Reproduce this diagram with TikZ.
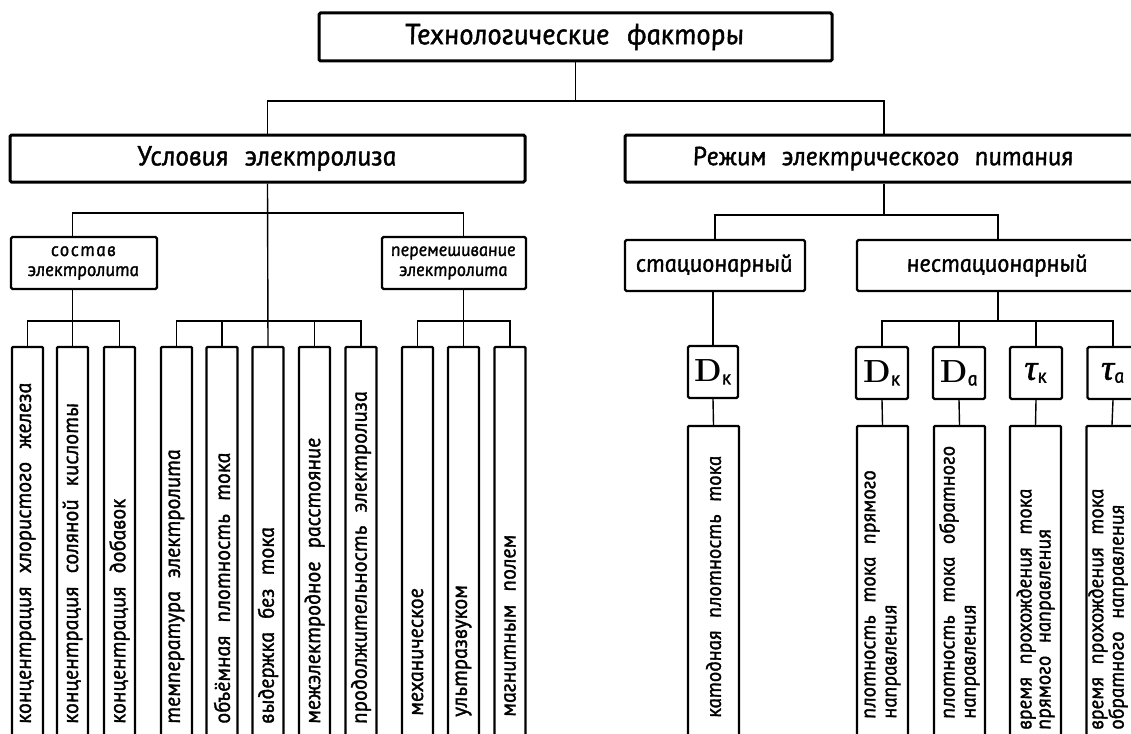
\documentclass[tikz,border=0pt]{standalone}
\usepackage{fontspec}
\newfontfamily\gost{PT Sans Italic}[FakeSlant=-0.18, FakeBold=1.6]
\newfontfamily\grk{Liberation Serif Italic}[FakeBold=1.5]
\newcommand\fTitle{\gost\fontsize{29}{32}\selectfont\spaceskip=0.6em plus 0.1em\relax}
\newcommand\fUsl{\gost\fontsize{27.5}{30}\selectfont\spaceskip=0.6em plus 0.1em\relax}
\newcommand\fRez{\gost\fontsize{26}{30}\selectfont\spaceskip=0.6em plus 0.1em\relax}
\newcommand\fHead{\gost\fontsize{24.5}{30}\selectfont\spaceskip=0.6em plus 0.1em\relax}
\newcommand\fSub{\gost\fontsize{19}{20}\selectfont\spaceskip=0.5em\relax}
\newcommand\fPer{\gost\fontsize{18.5}{20}\selectfont\spaceskip=0.5em\relax}
\newcommand\fVert{\gost\fontsize{22}{21}\selectfont\spaceskip=0.6em plus 0.1em\relax}
\newcommand\fVertR{\gost\fontsize{21}{21}\selectfont\spaceskip=0.6em plus 0.1em\relax}
\newcommand\fVertS{\gost\fontsize{21}{19}\selectfont\spaceskip=0.6em plus 0.1em\relax}
\newcommand\dsym[1]{{\fontsize{32}{32}\selectfont\bfseries D}\kern1pt\raisebox{-3pt}{\gost\fontsize{20}{20}\selectfont #1}}
\newcommand\tsym[1]{{\grk\fontsize{36}{36}\selectfont τ}\kern1pt\raisebox{-3pt}{\gost\fontsize{20}{20}\selectfont #1}}
\begin{document}
\begin{tikzpicture}[x=1pt,y=-1pt,
  box/.style={draw, line width=2.4pt, rounded corners=1.5pt, inner sep=0pt, align=center},
  bigbox/.style={box, line width=3pt},
  tall/.style={draw, line width=2.2pt, rounded corners=1pt, inner sep=0pt, minimum width=31pt, minimum height=413pt},
  tallr/.style={tall, minimum width=51pt, minimum height=334pt},
  con/.style={line width=1.4pt},
  vt/.style={rotate=90, anchor=west, inner sep=0pt, font=\fVert, align=left},
  vtr/.style={vt, font=\fVertR},
  vts/.style={vt, font=\fVertS},
]
\clip (0,0) rectangle (1131,733);
% buses
\coordinate (busA) at (0,101);
\coordinate (busB) at (0,213);
\coordinate (busC) at (0,321);
\coordinate (busD) at (0,215);
% top levels
\node[bigbox, minimum width=513pt, minimum height=48pt, font=\fTitle] (top) at (575.5,37) {Технологические факторы};
\node[bigbox, minimum width=515pt, minimum height=47pt, font=\fUsl] (usl) at (267.5,158.5) {Условия электролиза};
\node[bigbox, minimum width=518pt, minimum height=47pt, font=\fRez] (rez) at (884,158.5) {Режим электрического питания};
\node[box, minimum width=146pt, minimum height=52pt, font=\fSub] (sost) at (84,263) {\addfontfeature{LetterSpace=8}состав\\электролита};
\node[box, minimum width=144pt, minimum height=52pt, font=\fPer] (per) at (454,263) {перемешивание\\электролита};
\node[box, minimum width=180pt, minimum height=51pt, font=\fHead] (stac) at (715,265.5) {стационарный};
\node[box, minimum width=282pt, minimum height=51pt, font=\fHead] (nest) at (998,265.5) {нестационарный};
% small symbol boxes
\node[box, minimum width=50pt, minimum height=52pt] (Dk1) at (713,372) {\dsym{к}};
\node[box, minimum width=52pt, minimum height=52pt] (Dk2) at (882,373) {\dsym{к}};
\node[box, minimum width=52pt, minimum height=52pt] (Da) at (959,373) {\dsym{а}};
\node[box, minimum width=52pt, minimum height=52pt] (tk) at (1036,373) {\tsym{к}};
\node[box, minimum width=51pt, minimum height=52pt] (ta) at (1113,373) {\tsym{а}};
% tall boxes left
\foreach \n/\x in {b1/27.5,b2/72.5,b3/119.5,b4/176.5,b5/222,b6/268,b7/314.5,b8/361,b9/417.5,b10/463.5,b11/510}
  \node[tall] (\n) at (\x,553.5) {};
% tall boxes right
\foreach \n/\x in {r0/713.5,r1/882.5,r2/959.5,r3/1035.5,r4/1112}
  \node[tallr] (\n) at (\x,593) {};
% texts
\node[vt] (t1) at ([yshift=38pt]b1.south) {концентрация хлористого железа};
\node[vt] (t2) at ([yshift=38pt]b2.south) {концентрация соляной кислоты};
\node[vt] (t3) at ([yshift=38pt]b3.south) {концентрация добавок};
\node[vt] (t4) at ([yshift=38pt]b4.south) {температура электролита};
\node[vt] (t5) at ([yshift=38pt]b5.south) {объёмная плотность тока};
\node[vt] (t6) at ([yshift=38pt]b6.south) {выдержка без тока};
\node[vt] (t7) at ([yshift=38pt]b7.south) {межэлектродное расстояние};
\node[vt] (t8) at ([yshift=38pt]b8.south) {продолжительность электролиза};
\node[vt] (t9) at ([yshift=46pt]b9.south) {механическое};
\node[vt] (t10) at ([yshift=45pt]b10.south) {ультразвуком};
\node[vt] (t11) at ([yshift=45pt]b11.south) {магнитным полем};
\node[vtr] (s0) at ([yshift=44pt]r0.south) {катодная плотность тока};
\node[vtr] (s1) at ([yshift=43pt]r1.south) {плотность тока прямого\\направления};
\node[vtr] (s2) at ([yshift=43pt]r2.south) {плотность тока обратного\\направления};
\node[vts] (s3) at ([yshift=32pt]r3.south) {время прохождения тока\\прямого направления};
\node[vts] (s4) at ([yshift=32pt,xshift=-4pt]r4.south) {время прохождения тока\\обратного направления};
% connectors
\draw[con] (top.south) -- (top.south |- busA);
\draw[con] (usl.north) |- (rez.north |- busA) -- (rez.north);
\draw[con] (usl.south) -- (b6.north);
\draw[con] (sost.north -| b2.north) |- (busB -| b10.north) -- (per.north -| b10.north);
\draw[con] (sost.south -| b2.north) -- (b2.north);
\draw[con] (b1.north) |- (busC -| b3.north) -- (b3.north);
\draw[con] (b4.north) |- (busC -| b8.north) -- (b8.north);
\draw[con] (b5.north) -- (b5.north |- busC);
\draw[con] (b7.north) -- (b7.north |- busC);
\draw[con] (per.south -| b10.north) -- (b10.north);
\draw[con] (b9.north) |- (busC -| b11.north) -- (b11.north);
\draw[con] (rez.south) -- (rez.south |- busD);
\draw[con] (stac.north) |- (busD -| nest.north) -- (nest.north);
\draw[con] (stac.south -| Dk1.north) -- (Dk1.north);
\draw[con] (Dk1.south) -- (r0.north);
\draw[con] (nest.south) -- (nest.south |- busC);
\draw[con] (Dk2.north) |- (busC -| ta.north) -- (ta.north);
\draw[con] (Da.north) -- (Da.north |- busC);
\draw[con] (tk.north) -- (tk.north |- busC);
\draw[con] (Dk2.south) -- (r1.north);
\draw[con] (Da.south) -- (r2.north);
\draw[con] (tk.south) -- (r3.north);
\draw[con] (ta.south) -- (r4.north);
\end{tikzpicture}
\end{document}
